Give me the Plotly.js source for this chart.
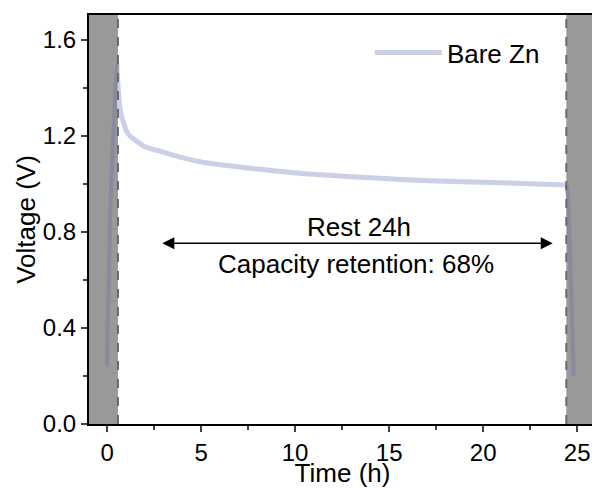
<!DOCTYPE html>
<html>
<head>
<meta charset="utf-8">
<script src="https://cdn.plot.ly/plotly-3.0.1.min.js"></script>
<style>
html, body { margin: 0; padding: 0; overflow: hidden; background: #fff; }
#chart { width: 600px; height: 488px; }
</style>
</head>
<body>
<div id="chart"></div>
<script>
// Charge segment (inside left shaded region)
const chargeTime = [0.0, 0.03, 0.10, 0.17, 0.34, 0.52];
const chargeVolt = [0.24, 0.40, 0.60, 0.90, 1.22, 1.505];

// Rest segment (24 h open circuit)
const restTime = [0.52, 0.56, 0.60, 0.68, 0.78, 0.90, 1.05, 1.25, 1.49, 1.75, 2.02, 2.45, 2.91, 3.35, 3.79, 4.68, 5.74, 7.0, 8.0, 9.0, 10.3, 12.0, 14.0, 15.6, 18.0, 20.9, 22.5, 24.45];
const restVolt = [1.505, 1.44, 1.39, 1.32, 1.28, 1.25, 1.218, 1.198, 1.183, 1.168, 1.155, 1.144, 1.135, 1.124, 1.114, 1.097, 1.083, 1.071, 1.062, 1.054, 1.044, 1.035, 1.026, 1.019, 1.011, 1.005, 1.001, 0.996];

// Discharge segment (inside right shaded region)
const dischargeTime = [24.45, 24.50, 24.58, 24.66, 24.74, 24.81];
const dischargeVolt = [0.996, 0.96, 0.80, 0.60, 0.40, 0.20];

const seriesName = 'Bare Zn';
const restLabel = 'Rest 24h';
const retentionLabel = 'Capacity retention: 68%';
const xTickVals = [0, 5, 10, 15, 20, 25];
const yTickVals = [0.0, 0.4, 0.8, 1.2, 1.6];

const xRange = [-0.96, 26.0];
const yRange = [0, 1.704];
const restStart = 0.58, restEnd = 24.42;
const arrowFrom = 2.86, arrowTo = 23.7, arrowY = 0.753;

const font = 'Arial, "Liberation Sans", sans-serif';
const restColor = '#ccd0e6';
const shadedColor = '#888a9e';

const traces = [
  { x: restTime, y: restVolt, name: seriesName, mode: 'lines', legendgroup: 'z',
    line: { color: restColor, width: 5, shape: 'spline', smoothing: 0.6 } },
  { x: chargeTime, y: chargeVolt, mode: 'lines', legendgroup: 'z', showlegend: false,
    line: { color: shadedColor, width: 4, shape: 'spline', smoothing: 0.6 } },
  { x: dischargeTime, y: dischargeVolt, mode: 'lines', legendgroup: 'z', showlegend: false,
    line: { color: shadedColor, width: 4, shape: 'spline', smoothing: 0.6 } }
];

const layout = {
  width: 600, height: 488,
  margin: { l: 89, r: 4, t: 15, b: 64 },
  paper_bgcolor: '#fff', plot_bgcolor: '#fff',
  font: { family: font, size: 24, color: '#000' },
  showlegend: true,
  legend: { x: 0.554, y: 0.908, xanchor: 'left', yanchor: 'middle',
            bgcolor: 'rgba(0,0,0,0)', font: { size: 26, family: font },
            itemwidth: 67 },
  xaxis: {
    range: xRange, tickvals: xTickVals, ticks: 'outside', ticklen: 6, tickwidth: 2,
    showline: true, linecolor: '#000', linewidth: 2, mirror: true,
    showgrid: false, zeroline: false,
    tickfont: { size: 24 },
    minor: { dtick: 2.5, ticks: 'outside', ticklen: 4, tickwidth: 2, tick0: 0 },
    title: { text: 'Time (h)', font: { size: 26 }, standoff: 0 }
  },
  yaxis: {
    range: yRange, tickvals: yTickVals, tickformat: '.1f', ticks: 'outside', ticklen: 6, tickwidth: 2,
    showline: true, linecolor: '#000', linewidth: 2, mirror: true,
    showgrid: false, zeroline: false,
    tickfont: { size: 24 },
    minor: { dtick: 0.2, ticks: 'outside', ticklen: 4, tickwidth: 2, tick0: 0 },
    title: { text: 'Voltage (V)', font: { size: 26 }, standoff: 0 }
  },
  shapes: [
    { type: 'rect', xref: 'x', yref: 'y', x0: xRange[0], x1: restStart, y0: yRange[0], y1: yRange[1],
      fillcolor: '#999999', line: { width: 0 }, layer: 'below' },
    { type: 'rect', xref: 'x', yref: 'y', x0: restEnd, x1: xRange[1], y0: yRange[0], y1: yRange[1],
      fillcolor: '#999999', line: { width: 0 }, layer: 'below' },
    { type: 'line', xref: 'x', yref: 'y', x0: restStart, x1: restStart, y0: yRange[0], y1: yRange[1],
      line: { color: '#6a6a6a', width: 2, dash: 'dash' }, layer: 'above' },
    { type: 'line', xref: 'x', yref: 'y', x0: restEnd, x1: restEnd, y0: yRange[0], y1: yRange[1],
      line: { color: '#6a6a6a', width: 2, dash: 'dash' }, layer: 'above' }
  ],
  annotations: [
    { x: arrowTo, y: arrowY, ax: arrowFrom, ay: arrowY, xref: 'x', yref: 'y', axref: 'x', ayref: 'y',
      text: '', showarrow: true, arrowhead: 2, startarrowhead: 2, arrowside: 'end+start',
      arrowsize: 1.6, startarrowsize: 1.6, arrowwidth: 1.5, arrowcolor: '#000' },
    { x: 13.4, y: 0.82, xref: 'x', yref: 'y', text: restLabel, showarrow: false,
      font: { size: 26, family: font, color: '#000' }, yanchor: 'middle' },
    { x: 13.25, y: 0.665, xref: 'x', yref: 'y', text: retentionLabel, showarrow: false,
      font: { size: 26, family: font, color: '#000' }, yanchor: 'middle' }
  ]
};

Plotly.newPlot('chart', traces, layout, { displayModeBar: false, staticPlot: true });
</script>
</body>
</html>
